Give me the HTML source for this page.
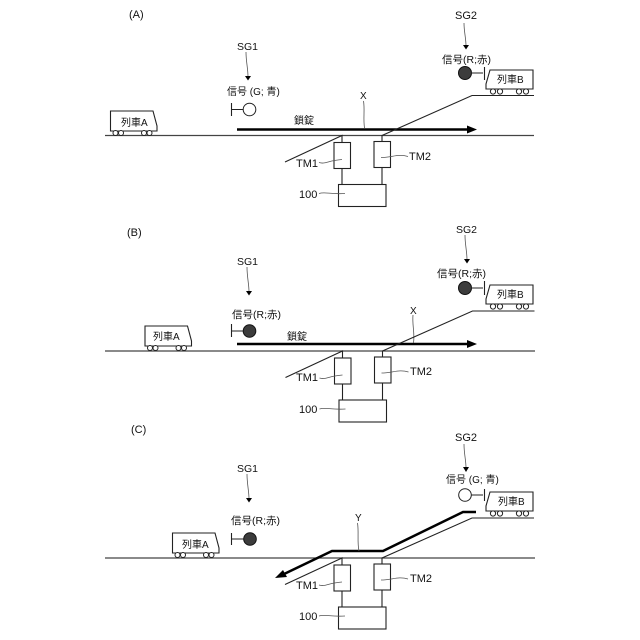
<!DOCTYPE html>
<html><head><meta charset="utf-8"><style>
html,body{margin:0;padding:0;background:#fff}
svg{display:block;filter:blur(.25px)}
text{font-family:"Liberation Sans","Noto Sans CJK JP",sans-serif;font-size:10.500px;fill:#111}
.n{font-size:11px}
.j{font-size:10px}
.l{fill:none;stroke:#222;stroke-width:1.1}
.f{fill:none;stroke:#555;stroke-width:.8}
.m{fill:none;stroke:#444;stroke-width:1.3}
.b{fill:#fff;stroke:#222;stroke-width:1.1}
.t{fill:none;stroke:#000;stroke-width:2.5}
.w{fill:#fff;stroke:#222;stroke-width:1}
.r{fill:#3c3c3c;stroke:#111;stroke-width:1}
.g{fill:#fff;stroke:#222;stroke-width:1}
.h{fill:#000}
</style></head><body>
<svg width="640" height="640" viewBox="0 0 640 640" xmlns="http://www.w3.org/2000/svg">
<defs>
<g id="trA"><path class="b" d="M0.5 0H43L47 15V20H0.500Z"/><circle class="w" cx="5.500" cy="22" r="2.500"/><circle class="w" cx="11" cy="22" r="2.500"/><circle class="w" cx="34" cy="22" r="2.500"/><circle class="w" cx="39.500" cy="22" r="2.500"/></g>
<g id="trB"><path class="b" d="M4 0H47V19H0V14Z"/><circle class="w" cx="7" cy="21.500" r="2.600"/><circle class="w" cx="14" cy="21.500" r="2.600"/><circle class="w" cx="33" cy="21.500" r="2.600"/><circle class="w" cx="40" cy="21.500" r="2.600"/></g>
<g id="equip">
<path class="l" d="M285 26.500L342 0V7M342 33V49M382 7V0L472 -40H534M382 32V49"/>
<rect class="b" x="334" y="7" width="16.500" height="26"/>
<rect class="b" x="374" y="6" width="16.500" height="26"/>
<rect class="b" x="338.500" y="49" width="47.500" height="22"/>
<path class="f" d="M319 27C325 29 328 25 342 24M408 21C398 18 392 22 381 22M319 58C325 56 330 59 345 58"/>
</g>
</defs>

<!-- A -->
<text x="129" y="18" class="n">(A)</text>
<path class="m" d="M105 135.500H534"/>
<use href="#trA" x="110" y="111"/>
<text x="121" y="126" class="j">列車A</text>
<text x="237" y="50">SG1</text>
<path class="f" d="M246 52C246 62 248 68 248 77"/><path class="h" d="M245 76h6l-3 4.500z"/>
<text x="227" y="95" class="j">信号 (G; 青)</text>
<path class="l" d="M231.500 103V116M231.500 109.500H243"/><circle class="g" cx="249.500" cy="109.500" r="6.300"/>
<text x="294" y="124" class="j">鎖錠</text>
<path class="t" d="M237 129.500H468"/><path class="h" d="M467 125.500L477 129.500L467 133.500Z"/>
<text x="360" y="99" class="j">X</text>
<path class="f" d="M363.500 101C365 110 363 118 364.500 128"/>
<use href="#equip" x="0" y="135.500"/>
<text x="296" y="167" class="n">TM1</text>
<text x="409" y="160" class="n">TM2</text>
<text x="299" y="198" class="n">100</text>
<text x="455" y="19" class="n">SG2</text>
<path class="f" d="M464 23C464 32 466 38 466 46"/><path class="h" d="M463 45h6l-3 4.500z"/>
<text x="442" y="63">信号(R;赤)</text>
<circle class="r" cx="465" cy="73" r="6.500"/>
<path class="l" d="M471 73H483M484.500 67V80"/>
<use href="#trB" x="486" y="70"/>
<text x="497" y="83" class="j">列車B</text>

<!-- B -->
<text x="127" y="236" class="n">(B)</text>
<path class="m" d="M105 351H535"/>
<use href="#trA" x="144.500" y="326"/>
<text x="153" y="340" class="j">列車A</text>
<text x="237" y="265">SG1</text>
<path class="f" d="M247 267C247 277 249 284 249 292"/><path class="h" d="M246 291h6l-3 4.500z"/>
<text x="232" y="318">信号(R;赤)</text>
<path class="l" d="M231.500 324V337M231.500 331H244"/><circle class="r" cx="249.500" cy="331" r="6.300"/>
<text x="287" y="340" class="j">鎖錠</text>
<path class="t" d="M237 344H468"/><path class="h" d="M467 340L477 344L467 348Z"/>
<text x="410" y="314" class="j">X</text>
<path class="f" d="M413 315C412 325 415 333 413.500 343"/>
<use href="#equip" x="0.500" y="351"/>
<text x="296" y="381" class="n">TM1</text>
<text x="410" y="375" class="n">TM2</text>
<text x="299" y="413" class="n">100</text>
<text x="456" y="233">SG2</text>
<path class="f" d="M465 235C465 245 467 251 467 260"/><path class="h" d="M464 259h6l-3 4.500z"/>
<text x="437" y="277">信号(R;赤)</text>
<circle class="r" cx="465" cy="288" r="6.500"/>
<path class="l" d="M471 288H483M484.500 281V295"/>
<use href="#trB" x="486" y="285"/>
<text x="497" y="298" class="j">列車B</text>

<!-- C -->
<text x="131" y="433" class="n">(C)</text>
<path class="m" d="M105 558H535"/>
<use href="#trA" x="172" y="533"/>
<text x="182" y="548" class="j">列車A</text>
<text x="237" y="472">SG1</text>
<path class="f" d="M247 474C247 484 249 491 249 499"/><path class="h" d="M246 498h6l-3 4.500z"/>
<text x="231" y="524">信号(R;赤)</text>
<path class="l" d="M231.500 533V545M231.500 539H244"/><circle class="r" cx="250" cy="539" r="6.300"/>
<path class="t" d="M476 512H463L383 551H332L282 575"/><path class="h" d="M275 578L283 570L287 577Z"/>
<text x="355" y="521" class="j">Y</text>
<path class="f" d="M357.500 523C359 532 357 542 359 551"/>
<use href="#equip" x="0" y="558"/>
<text x="296" y="589" class="n">TM1</text>
<text x="410" y="582" class="n">TM2</text>
<text x="299" y="620" class="n">100</text>
<text x="455" y="441" class="n">SG2</text>
<path class="f" d="M464 444C464 454 466 460 466 468"/><path class="h" d="M463 467h6l-3 5z"/>
<text x="446" y="483" class="j">信号 (G; 青)</text>
<circle class="g" cx="465" cy="495" r="6.300"/>
<path class="l" d="M471 495H483M484.500 489V501"/>
<use href="#trB" x="486" y="492"/>
<text x="498" y="505" class="j">列車B</text>
</svg>
</body></html>
